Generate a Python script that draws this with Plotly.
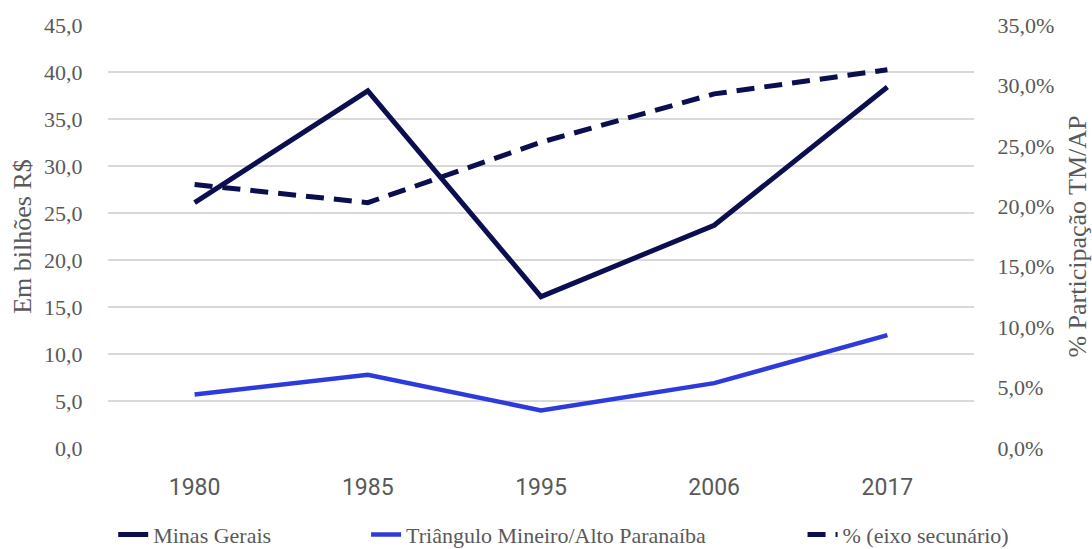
import plotly.graph_objects as go

anos = ["1980", "1985", "1995", "2006", "2017"]
minas_gerais = [26.1, 38.0, 16.1, 23.7, 38.4]
triangulo_ap = [5.7, 7.8, 4.0, 6.9, 12.0]
participacao = [0.218, 0.203, 0.253, 0.293, 0.313]

eixo_esq_ticks = [0, 5, 10, 15, 20, 25, 30, 35, 40, 45]
eixo_dir_ticks = [0, 0.05, 0.10, 0.15, 0.20, 0.25, 0.30, 0.35]

NAVY = "#0b0f4f"
BLUE = "#2d3bdc"
GRAY_TXT = "#595959"
SERIF = "Liberation Serif, Times New Roman, serif"
SANS = "Roboto, Liberation Sans, Arial, sans-serif"

fig = go.Figure()
fig.add_trace(go.Scatter(
    x=anos, y=minas_gerais, name="Minas Gerais", mode="lines",
    line=dict(color=NAVY, width=5), legend="legend",
))
fig.add_trace(go.Scatter(
    x=anos, y=triangulo_ap, name="Triângulo Mineiro/Alto Paranaíba", mode="lines",
    line=dict(color=BLUE, width=4.5), legend="legend2",
))
fig.add_trace(go.Scatter(
    x=anos, y=participacao, name="% (eixo secunário)", mode="lines",
    line=dict(color=NAVY, width=5, dash="18px,10px"),
    yaxis="y2", legend="legend3",
))

legend_font = dict(family=SERIF, size=22, color=GRAY_TXT)
legend_common = dict(orientation="h", xanchor="left", yref="container",
                     y=0.026, yanchor="middle",
                     font=legend_font, bgcolor="rgba(0,0,0,0)")

fig.update_layout(
    width=1092, height=549,
    margin=dict(l=108, r=118, t=25, b=101),
    paper_bgcolor="white", plot_bgcolor="white",
    separators=",.",
    showlegend=True,
    legend=dict(x=0.006, **legend_common),
    legend2=dict(x=0.298, **legend_common),
    legend3=dict(x=0.802, **legend_common),
    xaxis=dict(
        type="category", range=[-0.5, 4.5],
        showgrid=False, showline=False, zeroline=False,
        ticks="outside", ticklen=18, tickcolor="rgba(0,0,0,0)",
        tickfont=dict(family=SANS, size=23, color=GRAY_TXT),
    ),
    yaxis=dict(
        range=[0, 45], tickvals=eixo_esq_ticks, tickformat=".1f",
        showgrid=True, gridcolor="#d9d9d9", gridwidth=1.5,
        zeroline=False, showline=False, automargin=False,
        ticks="outside", ticklen=20, tickcolor="rgba(0,0,0,0)",
        tickfont=dict(family=SERIF, size=22, color=GRAY_TXT),
        title=dict(text="Em bilhões R$", font=dict(family=SERIF, size=26, color=GRAY_TXT),
                   standoff=4),
    ),
    yaxis2=dict(
        overlaying="y", side="right", automargin=False,
        range=[0, 0.35], tickvals=eixo_dir_ticks, tickformat=".1%",
        showgrid=False, zeroline=False, showline=False,
        ticks="outside", ticklen=18, tickcolor="rgba(0,0,0,0)",
        tickfont=dict(family=SERIF, size=22, color=GRAY_TXT),
        title=dict(text="% Participação TM/AP", font=dict(family=SERIF, size=26, color=GRAY_TXT),
                   standoff=18),
    ),
)

fig.write_html("out.html")
